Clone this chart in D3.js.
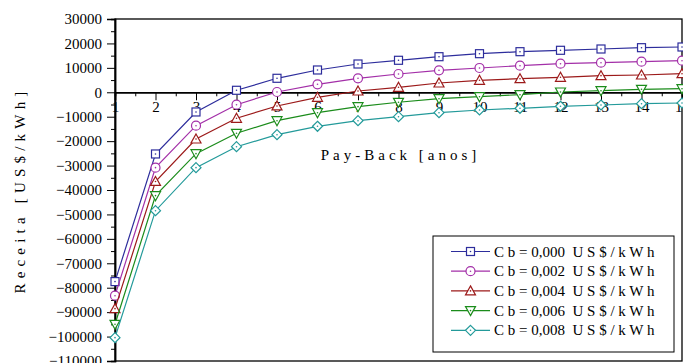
<!DOCTYPE html>
<html>
<head>
<meta charset="utf-8">
<script src="https://cdn.jsdelivr.net/npm/d3@7"></script>
<style>
  html, body { margin: 0; padding: 0; background: #fff; }
  svg { display: block; }
  svg text { font-family: "Liberation Serif", "Times New Roman", serif; }
</style>
</head>
<body>
<svg id="chart" width="683" height="363"></svg>
<script>
// Pay-back period (years)
const payback = [1, 2, 3, 4, 5, 6, 7, 8, 9, 10, 11, 12, 13, 14, 15];

// Revenue (US$/kWh) per battery cost Cb
const cb000 = [-77500, -25250, -8060, 820, 5730, 9130, 11580, 13100, 14570, 15800, 16620, 17190, 17720, 18260, 18540];
const cb002 = [-83260, -30860, -13670, -5080, 120, 3270, 5730, 7490, 9000, 9950, 10890, 11710, 12120, 12530, 12940];
const cb004 = [-88580, -36510, -19120, -10640, -5600, -2050, 530, 2050, 3810, 4910, 5570, 6140, 6800, 7080, 7610];
const cb006 = [-94970, -42320, -25130, -16780, -11630, -8350, -5890, -4090, -2620, -1800, -980, 120, 650, 1230, 1470];
const cb008 = [-100450, -48470, -30860, -22270, -17360, -13920, -11630, -9990, -8350, -7250, -6550, -5730, -5200, -4670, -4380];

const seriesLabels = [
  "C b = 0,000  U S $ / k W h",
  "C b = 0,002  U S $ / k W h",
  "C b = 0,004  U S $ / k W h",
  "C b = 0,006  U S $ / k W h",
  "C b = 0,008  U S $ / k W h"
];
const seriesValues = [cb000, cb002, cb004, cb006, cb008];
const seriesColors = ["#2d2d9c", "#a32fa8", "#9c1a1a", "#1b8c1b", "#239a9a"];
const seriesShapes = ["square", "circle", "triangle", "triangleDown", "diamond"];

const yTicks = [30000, 20000, 10000, 0, -10000, -20000, -30000, -40000, -50000, -60000, -70000, -80000, -90000, -100000, -110000];

const serif = '"Liberation Serif", "Times New Roman", serif';
const svg = d3.select("#chart");
const plot = { left: 115, top: 19, right: 682, bottom: 361 };

const x = d3.scaleLinear().domain([1, 15]).range([plot.left, plot.right]);
const y = d3.scaleLinear().domain([-110000, 30000]).range([plot.bottom, plot.top]);

// Plot frame
svg.append("rect")
  .attr("x", plot.left).attr("y", plot.top)
  .attr("width", plot.right - plot.left).attr("height", plot.bottom - plot.top)
  .attr("fill", "none").attr("stroke", "#000").attr("stroke-width", 1.3);

// Y axis with labelled majors and unlabelled minors
const yAxis = svg.append("g").attr("transform", `translate(${plot.left},0)`);
yAxis.call(d3.axisLeft(y).tickValues(yTicks).tickSize(8).tickPadding(5).tickFormat(d3.format("d")));
yAxis.append("g").call(d3.axisLeft(y).tickValues(d3.range(-105000, 30000, 10000)).tickSize(4).tickFormat(""));
yAxis.selectAll("path.domain").attr("stroke-width", 1.5);
yAxis.selectAll("text").attr("font-size", 15).attr("fill", "#000").style("font-family", serif);

// X axis drawn along zero revenue
const xAxis = svg.append("g").attr("transform", `translate(0,${y(0)})`);
xAxis.call(d3.axisBottom(x).tickValues(payback).tickSize(8).tickPadding(1).tickFormat(d3.format("d")));
xAxis.append("g").call(d3.axisBottom(x).tickValues(d3.range(1.5, 15, 1)).tickSize(4).tickFormat(""));
xAxis.selectAll("path.domain").attr("stroke-width", 1.5);
xAxis.selectAll("text").attr("font-size", 15).attr("fill", "#000").style("font-family", serif);

// Axis titles
svg.append("text")
  .attr("x", (plot.left + plot.right) / 2 + 2).attr("y", 160)
  .attr("text-anchor", "middle").attr("font-size", 15)
  .attr("letter-spacing", "4px")
  .style("font-family", serif)
  .text("Pay-Back [anos]");

svg.append("text")
  .attr("transform", `translate(25,${(plot.top + plot.bottom) / 2}) rotate(-90)`)
  .attr("text-anchor", "middle").attr("font-size", 15)
  .attr("letter-spacing", "5.2px")
  .style("font-family", serif)
  .text("Receita [US$/kWh]");

// Marker shapes
function marker(g, shape, color) {
  const s = 4;
  if (shape === "square") {
    g.append("rect").attr("x", -s).attr("y", -s).attr("width", 2 * s).attr("height", 2 * s);
  } else if (shape === "circle") {
    g.append("circle").attr("r", s + 0.5);
  } else if (shape === "triangle") {
    g.append("path").attr("d", `M0,${-s - 1}L${s + 1},${s}L${-s - 1},${s}Z`);
  } else if (shape === "triangleDown") {
    g.append("path").attr("d", `M0,${s + 1}L${s + 1},${-s}L${-s - 1},${-s}Z`);
  } else {
    g.append("path").attr("d", `M0,${-s - 1}L${s + 1},0L0,${s + 1}L${-s - 1},0Z`);
  }
  g.selectAll("rect,circle,path").attr("fill", "#fff").attr("stroke", color).attr("stroke-width", 1.2);
  g.append("circle").attr("r", 0.8).attr("fill", color);
}

const line = d3.line().x((d, i) => x(payback[i])).y(d => y(d));

seriesValues.forEach((vals, k) => {
  const g = svg.append("g");
  g.append("path").datum(vals)
    .attr("d", line).attr("fill", "none")
    .attr("stroke", seriesColors[k]).attr("stroke-width", 1.2);
  vals.forEach((v, i) => {
    const m = g.append("g").attr("transform", `translate(${x(payback[i])},${y(v)})`);
    marker(m, seriesShapes[k], seriesColors[k]);
  });
});

// Legend
const legend = svg.append("g");
legend.append("rect")
  .attr("x", 433).attr("y", 236).attr("width", 241).attr("height", 116)
  .attr("fill", "#fff").attr("stroke", "#000").attr("stroke-width", 1);
seriesLabels.forEach((lab, k) => {
  const ly = 251.5 + k * 19.7;
  legend.append("line").attr("x1", 451).attr("x2", 490).attr("y1", ly).attr("y2", ly)
    .attr("stroke", seriesColors[k]).attr("stroke-width", 1.2);
  const m = legend.append("g").attr("transform", `translate(470.5,${ly})`);
  marker(m, seriesShapes[k], seriesColors[k]);
  legend.append("text").attr("x", 494).attr("y", ly + 5)
    .attr("font-size", 15).style("white-space", "pre").style("font-family", serif)
    .text(lab);
});
</script>
</body>
</html>
